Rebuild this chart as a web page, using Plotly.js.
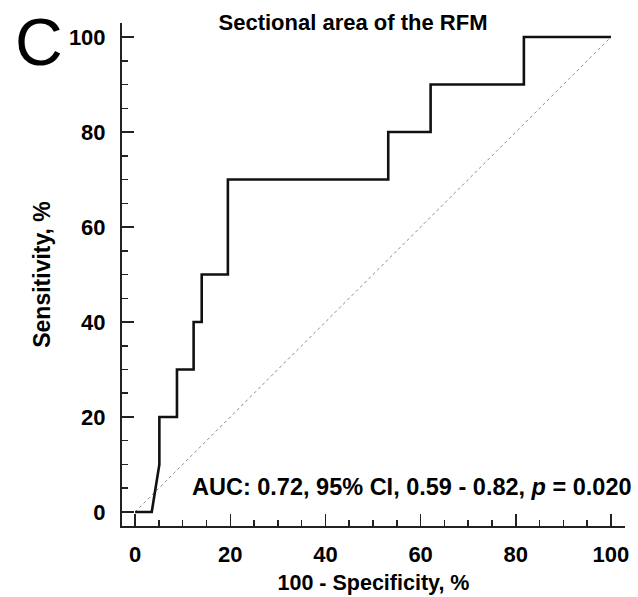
<!DOCTYPE html>
<html>
<head>
<meta charset="utf-8">
<script src="https://cdn.plot.ly/plotly-3.0.1.min.js"></script>
<style>html,body{margin:0;padding:0;background:#fff;}#chart{width:638px;height:597px;}</style>
</head>
<body>
<div id="chart"></div>
<script>
// ROC curve points (100 - Specificity, Sensitivity), in %
const fpr = [0, 3.5, 5.1, 5.1, 8.8, 8.8, 12.3, 12.3, 14.0, 14.0, 19.5, 19.5, 53.2, 53.2, 62.1, 62.1, 81.7, 81.7, 100];
const tpr = [0, 0, 10, 20, 20, 30, 30, 40, 40, 50, 50, 70, 70, 80, 80, 90, 90, 100, 100];
// reference diagonal
const diagX = [0, 100];
const diagY = [0, 100];
const tickVals = [0, 20, 40, 60, 80, 100];
const tickText = ['0', '20', '40', '60', '80', '100'];
const chartTitle = 'Sectional area of the RFM';
const xTitle = '100 - Specificity, %';
const yTitle = 'Sensitivity, %';
const panelLetter = 'C';
const aucText = 'AUC: 0.72, 95% CI, 0.59 - 0.82, <i>p</i> = 0.020';

const FONT = 'Liberation Sans, Arial, sans-serif';

const traces = [
  {x: diagX, y: diagY, mode: 'lines', line: {color: '#8a8a8a', width: 1, dash: 'dot'}, hoverinfo: 'skip', showlegend: false},
  {x: fpr, y: tpr, mode: 'lines', line: {color: '#111', width: 2.6}, showlegend: false}
];

const axisCommon = {
  showgrid: false, zeroline: false, showline: true, linecolor: '#222', linewidth: 2,
  ticks: 'inside', ticklen: 12, tickwidth: 1.5, tickcolor: '#222',
  tickvals: tickVals, ticktext: tickText,
  tickfont: {family: FONT, size: 22, color: '#000', weight: 'bold'},
  minor: {ticks: 'inside', dtick: 5, ticklen: 6, tickwidth: 1.5, tickcolor: '#222', showgrid: false},
  fixedrange: true
};

const layout = {
  width: 638, height: 597,
  margin: {l: 122, r: 13, t: 23, b: 71},
  paper_bgcolor: '#fff', plot_bgcolor: '#fff',
  title: {text: chartTitle, x: 353/638, xanchor: 'center', y: 1 - 22/597, yanchor: 'middle',
          font: {family: FONT, size: 22, color: '#000', weight: 'bold'}},
  xaxis: Object.assign({}, axisCommon, {range: [-2.75, 102.95], ticklabelstandoff: 8,
          title: {text: xTitle, standoff: 9, font: {family: FONT, size: 21.5, color: '#000', weight: 'bold'}}}),
  yaxis: Object.assign({}, axisCommon, {range: [-2.95, 102.95], ticklabelstandoff: 10,
          title: {text: yTitle, standoff: 12, font: {family: FONT, size: 23, color: '#000', weight: 'bold'}}}),
  annotations: [
    {text: panelLetter, xref: 'paper', yref: 'paper', x: -0.166, y: 0.962, xanchor: 'center', yanchor: 'middle',
     showarrow: false, font: {family: FONT, size: 66, color: '#000'}},
    {text: aucText, xref: 'paper', yref: 'paper', x: 1.018, y: 0.0775, xanchor: 'right', yanchor: 'middle',
     showarrow: false, font: {family: FONT, size: 23.5, color: '#000', weight: 'bold'}}
  ]
};

Plotly.newPlot('chart', traces, layout, {displayModeBar: false, staticPlot: true});
</script>
</body>
</html>
